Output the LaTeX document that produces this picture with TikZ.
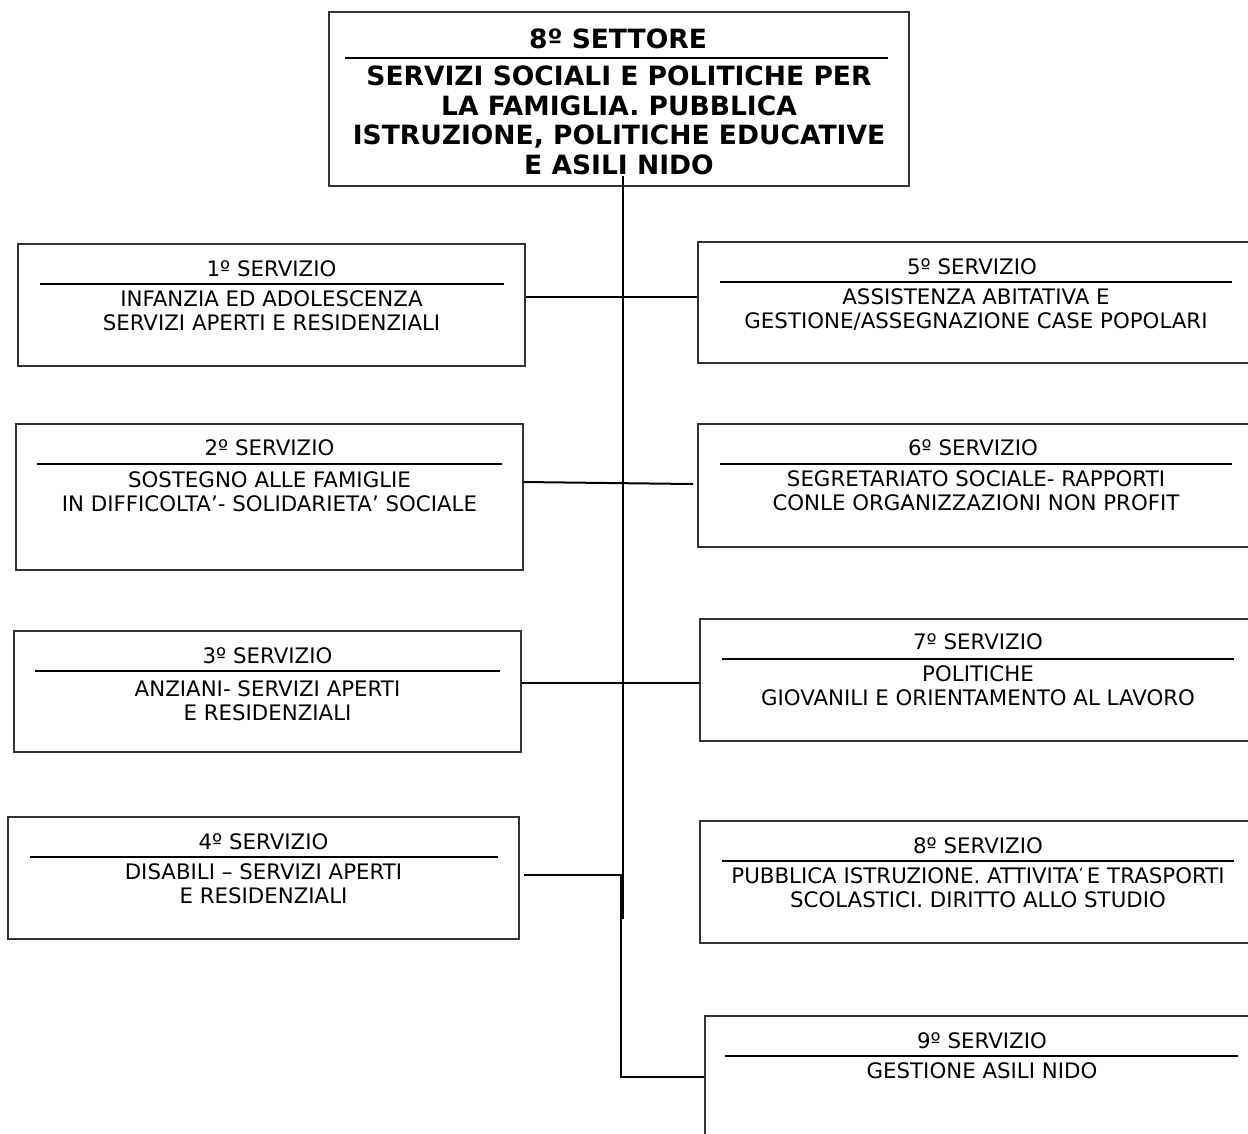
\documentclass[tikz,border=0pt]{standalone}
\usepackage{fontspec}
\setmainfont{DejaVu Sans}
\usetikzlibrary{fit}
\begin{document}
\begin{tikzpicture}[x=0.75pt,y=-0.75pt,
  unitbox/.style={draw=black!80, line width=1.1pt, inner sep=0pt},
  conn/.style={line width=1.5pt, black},
  rulebar/.style={line width=2.1pt},
  stitle/.style={anchor=north, inner sep=0pt, font=\fontsize{16}{18}\selectfont},
  sbody/.style={anchor=north, inner sep=0pt, align=center, font=\fontsize{16}{18}\selectfont},
  htext/.style={anchor=north, inner sep=0pt, align=center, font=\bfseries\fontsize{19.9}{22.3}\selectfont}]
\useasboundingbox (0,0) rectangle (1248,1133);
\clip (0,0) rectangle (1248,1133);
\fill[white] (0,0) rectangle (1248,1133);

% sector head
\node[unitbox, fit={(329,12) (909,186)}] (head) {};
\node[htext] (ht) at (618,28.3) {8º SETTORE};
\draw[rulebar] (345,58) -- (888,58);
\node[htext] (hb) at (619,65.3) {SERVIZI SOCIALI E POLITICHE PER\\LA FAMIGLIA. PUBBLICA\\ISTRUZIONE, POLITICHE EDUCATIVE\\E ASILI NIDO};

% left column
\node[unitbox, fit={(18,244) (525,366)}] (b1) {};
\node[stitle] (t1) at (271.5,260.2) {1º SERVIZIO};
\draw[rulebar] (40,284) -- (504,284);
\node[sbody] (d1) at (271.5,290.2) {INFANZIA ED ADOLESCENZA\\SERVIZI APERTI E RESIDENZIALI};

\node[unitbox, fit={(16,424) (523,570)}] (b2) {};
\node[stitle] (t2) at (269.5,439.2) {2º SERVIZIO};
\draw[rulebar] (37,464) -- (502,464);
\node[sbody] (d2) at (269.5,471.2) {SOSTEGNO ALLE FAMIGLIE\\IN DIFFICOLTA’- SOLIDARIETA’ SOCIALE};

\node[unitbox, fit={(14,631) (521,752)}] (b3) {};
\node[stitle] (t3) at (267.5,647.2) {3º SERVIZIO};
\draw[rulebar] (35,671) -- (500,671);
\node[sbody] (d3) at (267.5,680.2) {ANZIANI- SERVIZI APERTI\\E RESIDENZIALI};

\node[unitbox, fit={(8,817) (519,939)}] (b4) {};
\node[stitle] (t4) at (263.5,833.2) {4º SERVIZIO};
\draw[rulebar] (30,857) -- (498,857);
\node[sbody] (d4) at (263.5,863.2) {DISABILI – SERVIZI APERTI\\E RESIDENZIALI};

% right column
\node[unitbox, fit={(698,242) (1254,363)}] (b5) {};
\node[stitle] (t5) at (972,258.2) {5º SERVIZIO};
\draw[rulebar] (720,282) -- (1232,282);
\node[sbody] (d5) at (976,288.2) {ASSISTENZA ABITATIVA E\\GESTIONE/ASSEGNAZIONE CASE POPOLARI};

\node[unitbox, fit={(698,424) (1254,547)}] (b6) {};
\node[stitle] (t6) at (973,439.2) {6º SERVIZIO};
\draw[rulebar] (720,464) -- (1232,464);
\node[sbody] (d6) at (976,470.2) {SEGRETARIATO SOCIALE- RAPPORTI\\CONLE ORGANIZZAZIONI NON PROFIT};

\node[unitbox, fit={(700,619) (1256,741)}] (b7) {};
\node[stitle] (t7) at (978,633.2) {7º SERVIZIO};
\draw[rulebar] (722,659) -- (1234,659);
\node[sbody] (d7) at (978,665.2) {POLITICHE\\GIOVANILI E ORIENTAMENTO AL LAVORO};

\node[unitbox, fit={(700,821) (1256,943)}] (b8) {};
\node[stitle] (t8) at (978,837.2) {8º SERVIZIO};
\draw[rulebar] (722,861) -- (1234,861);
\node[sbody] (d8) at (978,867.2) {PUBBLICA ISTRUZIONE. ATTIVITA\raisebox{3.6pt}{\fontsize{10.5}{10.5}\selectfont ’}\,E TRASPORTI\\SCOLASTICI. DIRITTO ALLO STUDIO};

\node[unitbox, fit={(705,1016) (1260,1145)}] (b9) {};
\node[stitle] (t9) at (982,1032.2) {9º SERVIZIO};
\draw[rulebar] (725,1056) -- (1238,1056);
\node[sbody] (d9) at (982,1062.2) {GESTIONE ASILI NIDO};

% trunk and branches
\coordinate (ttop) at (623,176);
\coordinate (tbot) at (623,919);
\draw[conn] (ttop) -- (tbot);

\coordinate (k1) at (623,297);
\draw[conn] (b1.east |- k1) -- (b5.west |- k1);

\coordinate (k2) at (623,482);
\coordinate (k2e) at (693,484);
\draw[conn] (b2.east |- k2) -- (k2e);

\coordinate (k3) at (623,683);
\draw[conn] (b3.east |- k3) -- (b7.west |- k3);

\coordinate (k4s) at (524,875);
\coordinate (k4) at (621,875);
\coordinate (k9) at (621,1077);
\draw[conn] (k4s) -- (k4) -- (k9) -- (b9.west |- k9);
\end{tikzpicture}
\end{document}
